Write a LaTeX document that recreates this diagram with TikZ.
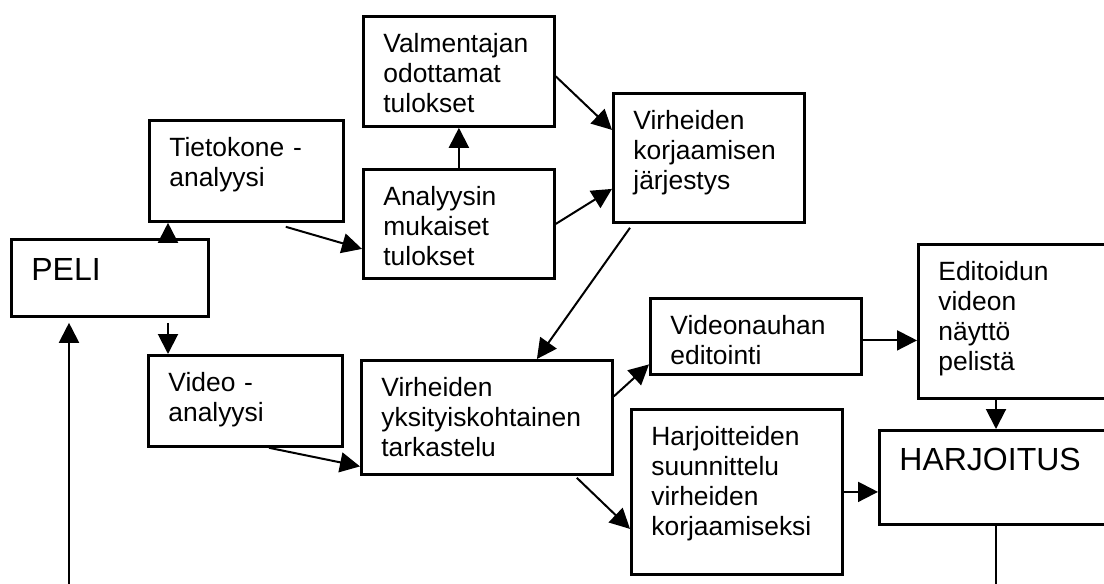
\documentclass[tikz,border=0pt]{standalone}
\usepackage{fontspec}
\setmainfont{Liberation Sans}
\usetikzlibrary{positioning,arrows.meta}
\newcommand{\boxtxt}{\fontsize{26.4}{30}\selectfont}
\newcommand{\bigtxt}{\fontsize{32}{36}\selectfont}

\begin{document}
\begin{tikzpicture}[x=1pt, y=-1pt,
    box/.style={draw, line width=2.8pt, anchor=north west, align=left, font=\boxtxt, inner xsep=20pt, inner ysep=0pt, text height=36pt},
    bigbox/.style={box, font=\bigtxt, text height=41pt},
    arr/.style={line width=2pt, -{Triangle[length=20pt, width=20pt]}},
    link/.style={line width=2pt},
]
    \path[use as bounding box, clip] (0,0) rectangle (1104,584);
    \fill[white] (0,0) rectangle (1104,584);
    % boxes
    \node[bigbox, text width=157pt, text depth=36pt] (peli) at (10,238) {PELI};
    \node[box, text width=154pt, text depth=65pt] (tieto) at (148,119) {Tietokone -\\analyysi};
    \node[box, text width=151pt, text depth=74pt] (valm) at (362,15) {Valmentajan\\odottamat\\tulokset};
    \node[box, text width=151pt, text depth=73pt] (anal) at (362,168) {Analyysin\\mukaiset\\tulokset};
    \node[box, text width=151pt, text depth=93pt] (korj) at (612,92) {Virheiden\\korjaamisen\\järjestys};
    \node[box, text width=154pt, text depth=55pt] (video) at (147,354) {Video -\\analyysi};
    \node[box, text width=211pt, text depth=78pt] (yksit) at (360,359) {Virheiden\\yksityiskohtainen\\tarkastelu};
    \node[box, text width=171pt, text depth=40pt] (editv) at (649,297) {Videonauhan\\editointi};
    \node[box, text width=163pt, text depth=118pt] (nayt) at (917,243) {Editoidun\\videon\\näyttö\\pelistä};
    \node[box, text width=171pt, text depth=129pt] (suunn) at (630,408) {Harjoitteiden\\suunnittelu\\virheiden\\korjaamiseksi};
    \node[bigbox, text width=202pt, text height=40pt, text depth=54pt] (harjoitus) at (878,429) {HARJOITUS};
    \coordinate (paluuL) at (69,600);
    \coordinate (paluuR) at (996,600);
    % arrows
    \draw[arr] ([xshift=20pt]tieto.south west |- peli.north) -- ([xshift=20pt]tieto.south west);
    \draw[arr] ([xshift=-59pt,yshift=-4pt]tieto.south east) -- ([yshift=-25pt]anal.west);
    \draw[arr] (anal.north) -- (valm.south);
    \draw[arr] ([yshift=-5pt]valm.east) -- ([yshift=28pt]korj.west);
    \draw[arr] (anal.east) -- ([yshift=-31pt]korj.west);
    \draw[arr] ([xshift=18pt,yshift=-4pt]korj.south west) -- ([xshift=50pt]yksit.north);
    \draw[arr] ([xshift=21pt,yshift=-5pt]video.north west |- peli.south) -- ([xshift=21pt]video.north west);
    \draw[arr] ([xshift=122pt]video.south west) -- ([yshift=-49pt]yksit.west);
    \draw[arr] ([yshift=21pt]yksit.east) -- ([yshift=-28pt]editv.west);
    \draw[arr] ([xshift=-37pt,yshift=-2pt]yksit.south east) -- ([yshift=-37pt]suunn.west);
    \draw[arr] ([yshift=-4pt]editv.east) -- ([yshift=-4pt]editv.east -| nayt.west);
    \draw[arr] ([xshift=79pt]nayt.south west) -- ([xshift=79pt]nayt.south west |- harjoitus.north);
    \draw[arr] (suunn.east) -- (suunn.east -| harjoitus.west);
    % back to the game
    \draw[link] ([xshift=79pt]nayt.south west |- harjoitus.south) -- (paluuR);
    \draw[arr] (paluuL) -- ([yshift=-5pt]paluuL |- peli.south);
\end{tikzpicture}
\end{document}
